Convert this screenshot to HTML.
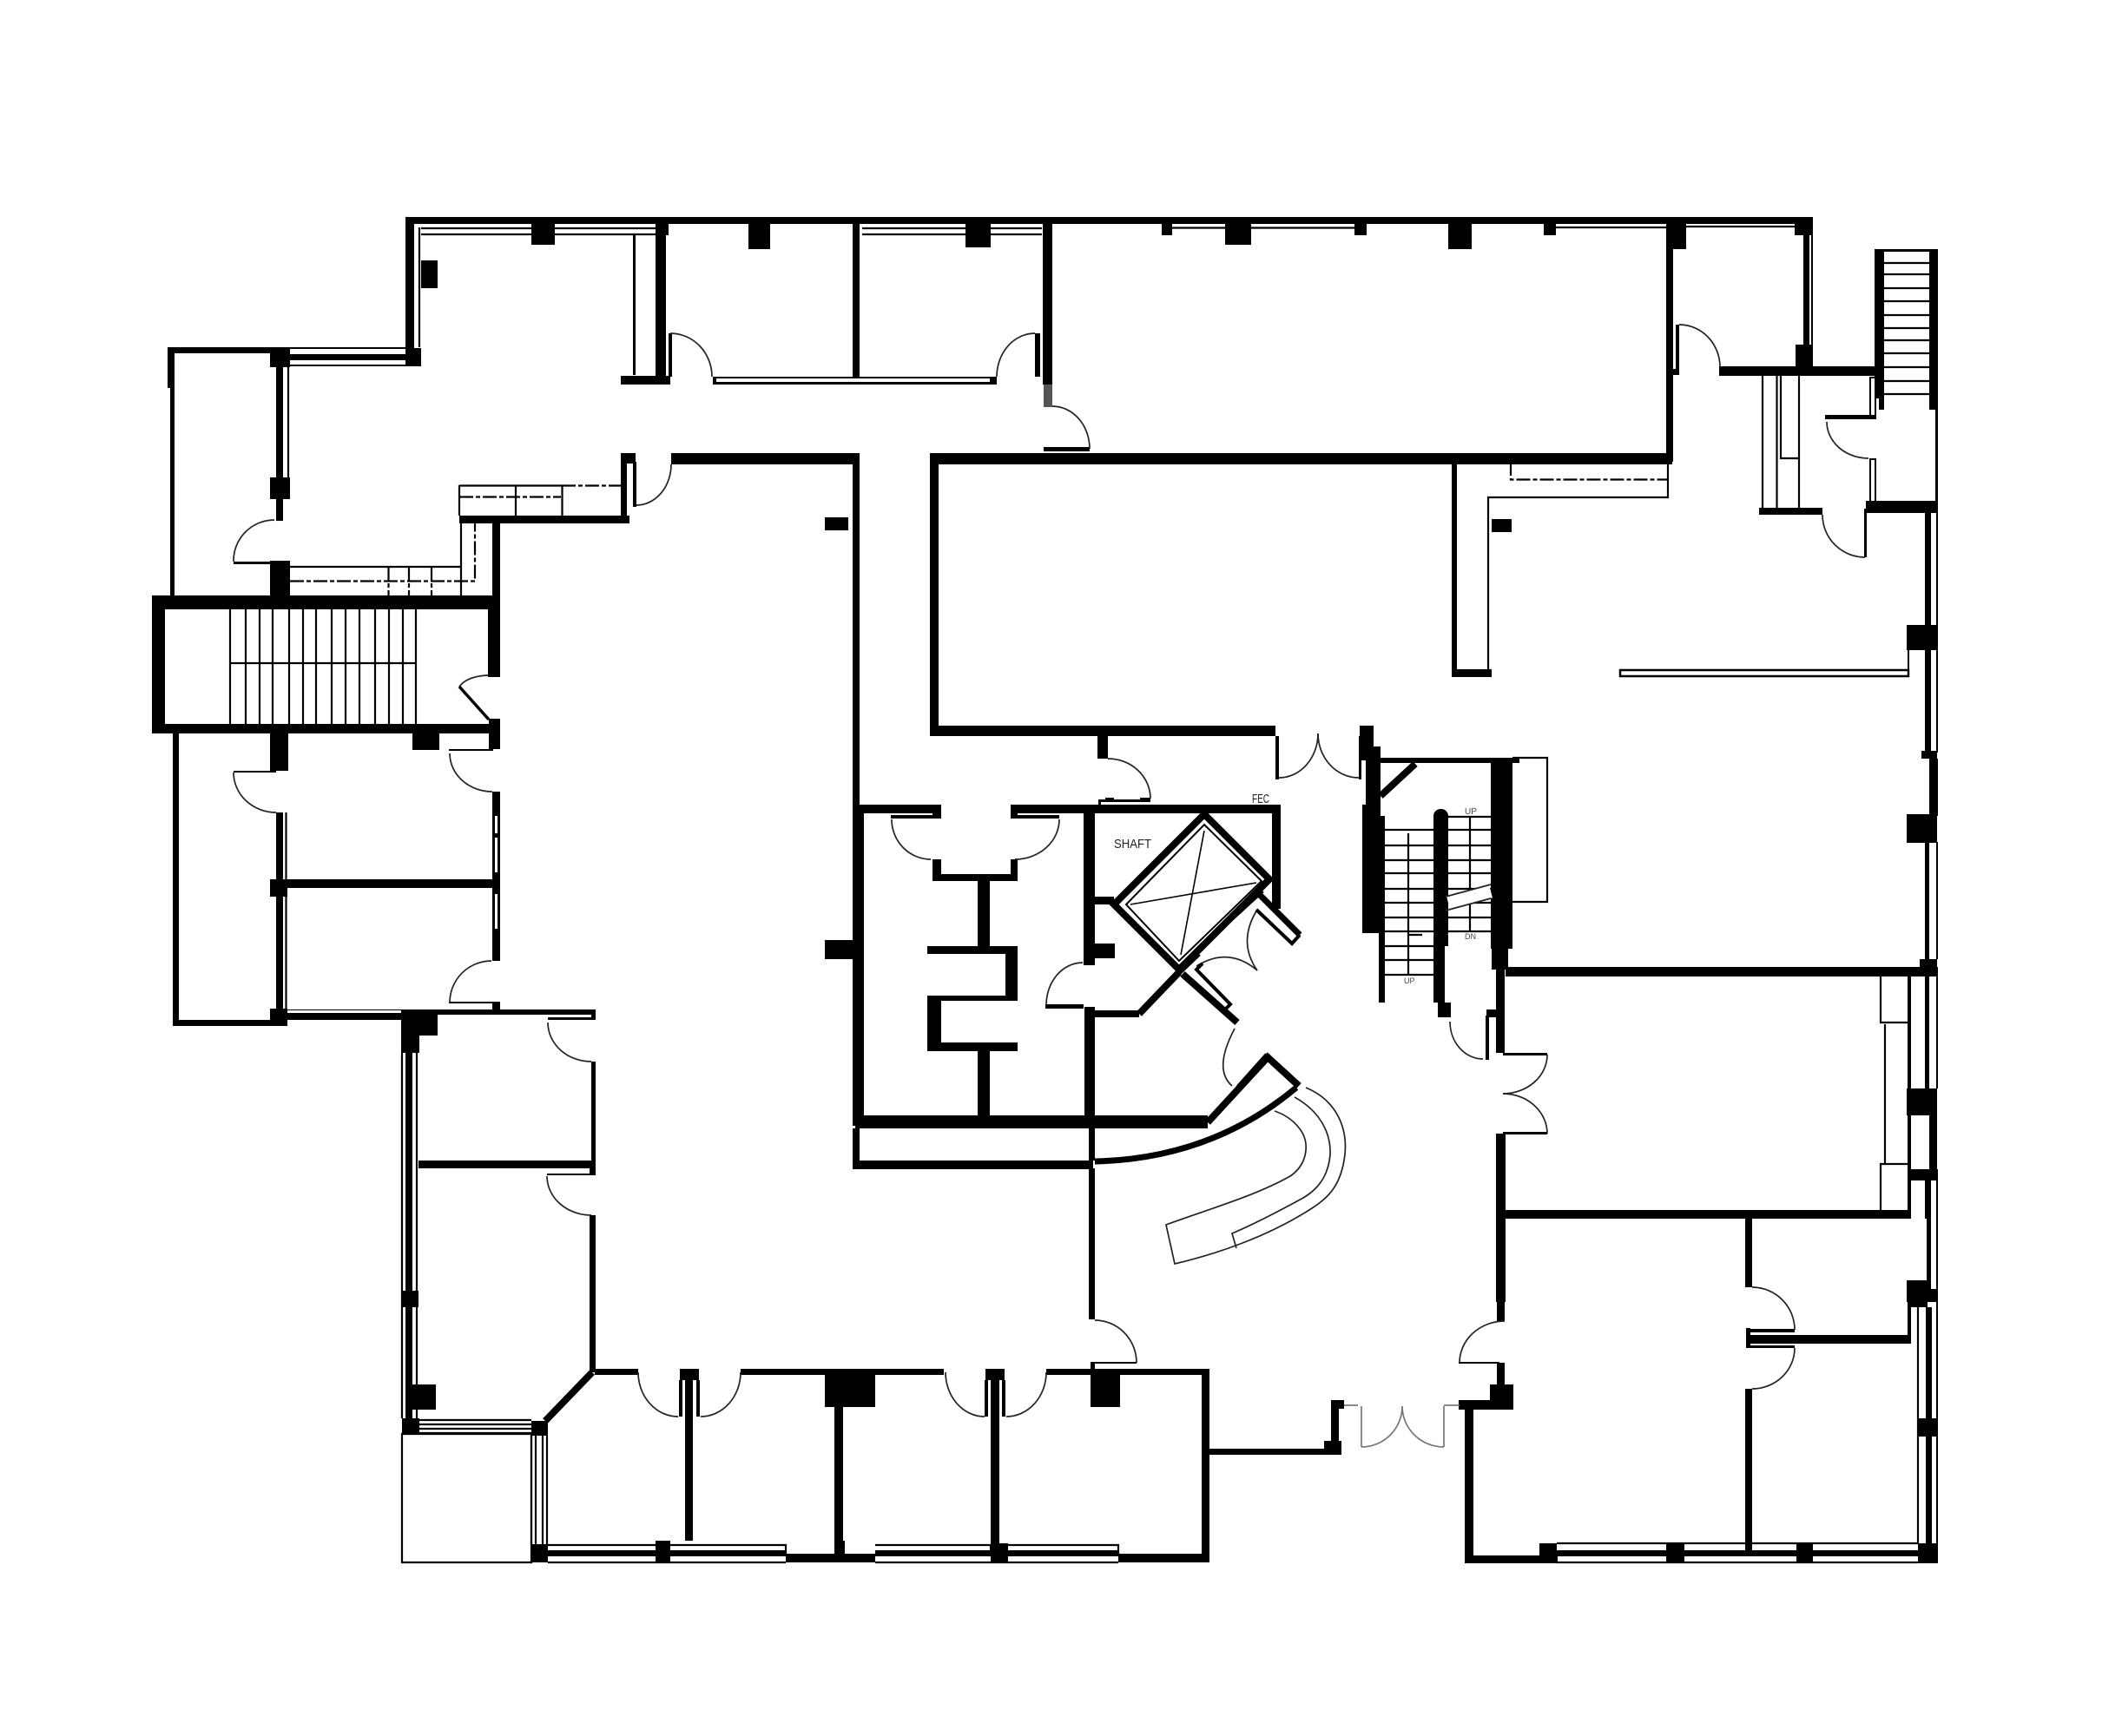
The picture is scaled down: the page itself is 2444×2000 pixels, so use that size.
<!DOCTYPE html>
<html><head><meta charset="utf-8"><title>Floor plan</title>
<style>html,body{margin:0;padding:0;background:#fff}svg{display:block}</style></head>
<body>
<svg xmlns="http://www.w3.org/2000/svg" width="2444" height="2000" viewBox="0 0 2444 2000">
<rect width="2444" height="2000" fill="#fff"/>
<path fill="#000" d="
M467 250H2088V258H467Z
M467 250H477V412H467Z
M467 401H485V422H467Z
M612 258H639V282H612Z
M485 300H504V332H485Z
M862 258H887V287H862Z
M1112 258H1141V285H1112Z
M1338 258H1350V271H1338Z
M1411 258H1441V282H1411Z
M1560 258H1574V271H1560Z
M1668 258H1695V287H1668Z
M1778 258H1792V271H1778Z
M1920 258H1942V287H1920Z
M2067 250H2088V271H2067Z
M193 400H313V407H193Z
M313 400H467V402H313Z
M313 408H467V415H313Z
M313 420H467V422H313Z
M311 401H334V423H311Z
M193 400H201V447H193Z
M196 447H201V687H196Z
M318 423H326V600H318Z
M311 550H334V575H311Z
M269 647H313V650H269Z
M311 646H334V687H311Z
M175 686H576V702H175Z
M175 686H190V845H175Z
M175 834H576V845H175Z
M562 702H576V780H562Z
M563 828H576V863H563Z
M311 845H332V888H311Z
M475 845H506V864H475Z
M199 845H206V1182H199Z
M199 1175H331V1182H199Z
M311 1162H331V1182H311Z
M269 888H318V890H269Z
M318 936H326V1013H318Z
M311 1013H331V1033H311Z
M331 1013H568V1023H331Z
M567 912H576V1107H567Z
M517 863H568V865H517Z
M517 1154H568V1156H517Z
M567 1154H576V1163H567Z
M318 1023H326V1162H318Z
M331 1163H464V1164H331Z
M331 1167H464V1175H331Z
M462 1163H504V1193H462Z
M462 1193H483V1213H462Z
M504 1163H686V1169H504Z
M681 1167H686V1175H681Z
M631 1172H681V1175H631Z
M681 1223H686V1337H681Z
M482 1337H686V1346H482Z
M467 1213H475V1650H467Z
M469 1595H502V1624H469Z
M463 1487H482V1506H463Z
M463 1634H483V1652H463Z
M679 1337H686V1354H679Z
M630 1352H681V1354H630Z
M679 1400H686V1581H679Z
M612 1637H631V1654H612Z
M612 1779H631V1800H612Z
M612 1786H905V1793H612Z
M755 1775H772V1800H755Z
M905 1790H962V1800H905Z
M962 1775H973V1800H962Z
M973 1790H1008V1800H973Z
M1141 1778H1161V1800H1141Z
M1288 1790H1393V1800H1288Z
M1008 1786H1288V1793H1008Z
M1384 1581H1393V1800H1384Z
M685 1577H735V1584H685Z
M853 1577H1087V1584H853Z
M1205 1577H1393V1584H1205Z
M950 1584H1008V1621H950Z
M1256 1584H1290V1621H1256Z
M789 1584H798V1775H789Z
M783 1577H805V1590H783Z
M782 1590H786V1632H782Z
M802 1590H806V1632H802Z
M961 1619H971V1790H961Z
M1141 1584H1151V1790H1141Z
M1135 1577H1157V1590H1135Z
M1134 1590H1138V1632H1134Z
M1154 1590H1158V1632H1154Z
M1254 1346H1261V1520H1254Z
M1256 1569H1309V1571H1256Z
M1256 1570H1261V1581H1256Z
M1393 1669H1543V1676H1393Z
M1525 1660H1545V1676H1525Z
M1533 1613H1542V1668H1533Z
M1533 1613H1548V1623H1533Z
M1680 1613H1716V1624H1680Z
M1716 1595H1743V1624H1716Z
M1687 1624H1697V1797H1687Z
M1687 1792H1794V1801H1687Z
M1773 1778H1793V1801H1773Z
M1773 1786H2210V1793H1773Z
M1919 1778H1940V1801H1919Z
M2069 1778H2088V1801H2069Z
M2209 1778H2232V1801H2209Z
M1724 1403H1733V1522H1724Z
M1680 1569H1727V1571H1680Z
M1724 1570H1733V1595H1724Z
M2010 1403H2018V1483H2010Z
M2016 1531H2067V1535H2016Z
M2011 1538H2201V1548H2011Z
M2011 1530H2016V1553H2011Z
M2016 1550H2067V1553H2016Z
M2010 1600H2018V1790H2010Z
M1727 1394H2201V1404H1727Z
M2196 1475H2232V1500H2196Z
M2197 1500H2220V1506H2197Z
M2197 1506H2201V1548H2197Z
M2209 1634H2232V1655H2209Z
M2218 1506H2225V1778H2218Z
M1734 1114H2232V1125H1734Z
M1723 1306H1734V1500H1723Z
M1731 1213H1782V1216H1731Z
M1731 1304H1782V1307H1731Z
M1717 877H1742V1093H1717Z
M1718 1093H1737V1117H1718Z
M1723 1117H1733V1213H1723Z
M1712 1163H1724V1172H1712Z
M1711 1170H1715V1221H1711Z
M1575 873H1750V879H1575Z
M2217 590H2224V867H2217Z
M2230 590H2232V867H2230Z
M2222 874H2232V940H2222Z
M2213 865H2231V874H2213Z
M2196 938H2231V971H2196Z
M2217 970H2222V1105H2217Z
M2230 970H2232V1105H2230Z
M2196 1254H2231V1285H2196Z
M2211 1105H2231V1124H2211Z
M2217 1124H2222V1254H2217Z
M2230 1124H2232V1254H2230Z
M2197 1124H2201V1404H2197Z
M2222 1285H2231V1347H2222Z
M2197 1347H2232V1360H2197Z
M2217 1360H2224V1404H2217Z
M2219 1404H2224V1475H2219Z
M2230 1360H2232V1778H2230Z
M755 258H767V434H755Z
M755 258H770V271H755Z
M729 271H732V432H729Z
M715 433H772V443H715Z
M770 384H774V434H770Z
M821 434H1148V443H821Z
M982 258H990V434H982Z
M1201 258H1212V443H1201Z
M1192 384H1198V434H1192Z
M1202 515H1255V520H1202Z
M1071 522H1926V535H1071Z
M1919 258H1927V532H1919Z
M1071 535H1081V838H1071Z
M1071 836H1469V848H1071Z
M1672 535H1678V778H1672Z
M1672 771H1718V780H1672Z
M1718 598H1741V613H1718Z
M950 596H977V611H950Z
M773 522H990V535H773Z
M982 522H990V928H982Z
M715 522H722V603H715Z
M715 522H732V534H715Z
M729 532H733V584H729Z
M529 594H725V603H529Z
M567 603H576V690H567Z
M1469 848H1473V898H1469Z
M1565 848H1568V898H1565Z
M1566 836H1582V876H1566Z
M1264 848H1276V874H1264Z
M1265 921H1325V924H1265Z
M1265 921H1268V927H1265Z
M1273 919H1283V924H1273Z
M1313 919H1325V924H1313Z
M1164 927H1475V937H1164Z
M982 927H1084V937H982Z
M1026 939H1078V943H1026Z
M1074 927H1084V943H1074Z
M1169 939H1220V943H1169Z
M1164 927H1172V943H1164Z
M982 928H995V1297H982Z
M950 1083H983V1105H950Z
M1074 990H1084V1015H1074Z
M1074 1007H1172V1015H1074Z
M1164 990H1172V1015H1164Z
M1126 1015H1140V1090H1126Z
M1068 1090H1172V1099H1068Z
M1158 1099H1172V1148H1158Z
M1068 1147H1172V1153H1068Z
M1068 1153H1084V1202H1068Z
M1068 1201H1172V1211H1068Z
M1126 1211H1140V1286H1126Z
M985 1285H1391V1300H985Z
M982 1300H990V1347H982Z
M982 1337H1259V1347H982Z
M1254 1300H1261V1337H1254Z
M1248 937H1261V1112H1248Z
M1261 1087H1284V1104H1261Z
M1260 1033H1283V1042H1260Z
M1204 1157H1248V1162H1204Z
M1249 1160H1261V1286H1249Z
M1261 1164H1312V1172H1261Z
M1465 937H1475V1047H1465Z
M1573 860H1590V927H1573Z
M1569 927H1590V1075H1569Z
M1588 940H1595V1155H1588Z
M1664 1077H1668V1090H1664Z
M1651 1077H1664V1155H1651Z
M1656 1155H1671V1172H1656Z
M2077 265H2084V421H2077Z
M2086 258H2088V421H2086Z
M2068 397H2088V423H2068Z
M1980 422H2169V433H1980Z
M1930 374H1934V430H1930Z
M1926 425H1934V432H1926Z
M2026 585H2099V593H2026Z
M2147 586H2150V642H2147Z
M2149 577H2232V591H2149Z
M2159 287H2170V459H2159Z
M2222 287H2232V472H2222Z
M2159 287H2232V290H2159Z
M2229 472H2232V577H2229Z
M2102 478H2161V483H2102Z
M2153 434H2161V436H2153Z
M2153 434H2155V480H2153Z
M2159 434H2161V483H2159Z
M2164 459H2170V472H2164Z
M2153 528H2161V530H2153Z
M2153 528H2155V577H2153Z
M2159 528H2161V577H2159Z
M2196 720H2231V749H2196Z
M2197 747H2199V773H2197Z
"/>
<rect x="1651" y="932" width="17" height="150" rx="8" fill="#000"/>
<path fill="#555" d="M1202 443H1212V469H1202Z"/>
<path fill="#fff" d="M825 436H1140V440H825ZM570 940H573V960H570ZM570 965H573V1005H570ZM570 1030H573V1070H570ZM2224 1360H2230V1485H2224Z"/>
<g fill="none" stroke="#000" stroke-width="2.2">
<path d="M993 263H1200M993 270H1200M485 263H755M485 270H755M483 262V400"/>
<path d="M1350 262.5H1411M1441 262.5H1560M1792 262H1920M1942 261H2067"/>
<path d="M332 423V550M329.5 936V1013M329.5 1023V1162M463 1213V1634M480 1213V1634"/>
<path d="M482 1636H612M482 1641H612M482 1646H612M482 1651H612"/>
<path d="M463 1652H612V1800H463Z"/>
<path d="M612 1654V1780M617 1654V1780M625 1654V1780M630 1654V1780"/>
<path d="M631 1780H755M772 1780H905V1790M631 1800H905M1008 1780H1141V1790M1161 1780H1288V1790M1008 1800H1288M1793 1778H2209M1793 1800H2209"/>
<path d="M2209 1506V1778"/>
<path d="M2030 433V586M2046.5 433V586M2051 433V528H2071M2072 433V586"/>
<path d="M1714 778V573H1921V532"/>
<path d="M2166 1124V1178H2197M2171 1180V1341M2166 1395V1341H2197"/>
<path d="M1742 873H1782V1039H1742"/>
<path d="M529 559.5H648M529 559V594M594 560V594M647.5 560V594"/>
<path d="M334 653H531M531 603V687"/>
<rect x="1866" y="772" width="332" height="7" fill="#fff" stroke-width="2.5"/>
<path d="M265 702V834M283 702V834M299 702V834M314 702V834M333 702V834M349 702V834M364 702V834M382 702V834M398 702V834M414 702V834M432 702V834M448 702V834M464 702V834M479 702V834M265 764H479"/>
<path d="M1595 956H1651M1595 974H1651M1595 991H1651M1595 1006H1651M1595 1024H1651M1595 1040H1651M1595 1057H1651M1595 1073H1651M1595 1090H1651M1595 1106H1651M1595 1123H1651M1622 960V1124M1623 1077H1638"/>
<path d="M1668 941H1717M1668 956H1717M1668 974H1717M1668 991H1717M1668 1006H1717M1668 1024H1717M1668 1040H1717M1668 1057H1717M1668 1073H1717M1693 941V1073"/>
<path d="M2170 303H2222M2170 316H2222M2170 332H2222M2170 347H2222M2170 363H2222M2170 378H2222M2170 392H2222M2170 407H2222M2170 423H2222M2170 439H2222M2170 454H2222"/>
</g>
<path d="M1668 1040L1717 1027" fill="none" stroke="#fff" stroke-width="15"/>
<path d="M1665 1033L1717 1019M1665 1049L1717 1035" fill="none" stroke="#222" stroke-width="1.8"/>
<g fill="none" stroke="#000" stroke-width="2.2" stroke-dasharray="16 3 5 3">
<path d="M334 669.5H547V603"/>
<path d="M447.5 653V687M471 653V687M497 653V687"/>
<path d="M529 572.5H646M647 559.5H716"/>
<path d="M1740 532V552.5H1920"/>
</g>
<g fill="none" stroke="#222" stroke-width="1.7">
<path d="M269 647A47 47 0 0 1 316 599"/>
<path d="M269 890A49 46 0 0 0 318 936"/>
<path d="M529 791Q538 779 562 778"/>
<path d="M518 868A49 44 0 0 0 567 912"/>
<path d="M518 1155A48 48 0 0 1 566 1107"/>
<path d="M631 1178A50 45 0 0 0 681 1223"/>
<path d="M630 1355A51 45 0 0 0 681 1400"/>
<path d="M733 582A40 47 0 0 0 773 535"/>
<path d="M772 384A48 50 0 0 1 820 434"/>
<path d="M1192 384A44 50 0 0 0 1148 434"/>
<path d="M1212 468A43 49 0 0 1 1255 517"/>
<path d="M1473 896A45 51 0 0 0 1518 845"/>
<path d="M1565 896A47 51 0 0 1 1518 845"/>
<path d="M1276 874A49 46 0 0 1 1325 920"/>
<path d="M1027 944A45 46 0 0 0 1072 990"/>
<path d="M1220 944A51 46 0 0 1 1169 990"/>
<path d="M1247 1109A42 49 0 0 0 1205 1158"/>
<path d="M1670 1177A38 43 0 0 0 1708 1220"/>
<path d="M1782 1215A51 45 0 0 1 1731 1260"/>
<path d="M1782 1306A51 46 0 0 0 1731 1260"/>
<path d="M1934 374A47 49 0 0 1 1981 423"/>
<path d="M2104 486A48 42 0 0 0 2152 528"/>
<path d="M2099 593A49 49 0 0 0 2148 642"/>
<path d="M735 1581A46 51 0 0 0 781 1632"/>
<path d="M853 1581A46 51 0 0 1 807 1632"/>
<path d="M1089 1581A45 51 0 0 0 1134 1632"/>
<path d="M1205 1581A46 51 0 0 1 1159 1632"/>
<path d="M1261 1521A48 49 0 0 1 1309 1570"/>
<path d="M1733 1522A52 48 0 0 0 1681 1570"/>
<path d="M2018 1483A49 49 0 0 1 2067 1532"/>
<path d="M2067 1553A49 47 0 0 1 2018 1600"/>
<path d="M1448 1048Q1425 1085 1448 1118"/>
<path d="M1378 1113Q1415 1090 1448 1118"/>
<path d="M1422 1185Q1397 1232 1419 1251"/>
</g>
<g fill="none" stroke="#777" stroke-width="1.7">
<path d="M1568 1667A47 47 0 0 0 1615 1620M1663 1667A48 47 0 0 1 1615 1620M1568 1620V1667M1663 1620V1667M1548 1619H1564M1663 1619H1681"/>
</g>
<g fill="none" stroke="#000">
<path d="M1387 938L1462 1013L1358 1117L1283 1042Z" stroke-width="8"/>
<path d="M1387 950L1453 1015L1358 1107L1297 1042Z" stroke-width="2"/>
<path d="M1387 957L1360 1100M1302 1042L1447 1017" stroke-width="1.6"/>
<path d="M1312 1168L1358 1120" stroke-width="8"/>
<path d="M1362 1122L1425 1178" stroke-width="8"/>
<path d="M1418 1057L1453 1025" stroke-width="8"/>
<path d="M1380 1098L1357 1120" stroke-width="8"/>
<path d="M1590 917L1630 880" stroke-width="8"/>
<path d="M682 1581L628 1637" stroke-width="8"/>
<path d="M529 791L563 829" stroke-width="3.5"/>
<path d="M1391 1293L1460 1218L1496 1251" stroke-width="8"/>
<path d="M1425 1251L1458 1214" stroke-width="2"/>
<path d="M1493 1253Q1395 1335 1261 1338" stroke-width="7"/>
<path d="M1450 1030L1497 1077" stroke-width="7"/>
<path d="M1497 1077L1488 1087L1447 1048" stroke-width="4"/>
<path d="M1385 1110L1378 1117L1417 1157L1410 1164" stroke-width="4"/>
</g>
<g fill="none" stroke="#222" stroke-width="1.7">
<path d="M1504 1253C1540 1268 1552 1300 1549 1330C1545 1365 1530 1380 1511 1392C1460 1425 1400 1445 1353 1456L1343 1411C1395 1392 1445 1378 1486 1355C1505 1342 1508 1320 1500 1305C1492 1292 1480 1284 1468 1280"/>
<path d="M1491 1264C1520 1280 1533 1305 1532 1330C1530 1355 1518 1370 1501 1380C1470 1397 1445 1410 1419 1421L1424 1438"/>
</g>
<g font-family="'Liberation Sans',sans-serif" fill="#222">
<text x="1283" y="977" font-size="15" textLength="43" lengthAdjust="spacingAndGlyphs">SHAFT</text>
<text x="1442" y="925" font-size="15" textLength="20" lengthAdjust="spacingAndGlyphs">FEC</text>
<text x="1687" y="938" font-size="10" fill="#444">UP</text>
<text x="1687" y="1082" font-size="9" fill="#444">DN</text>
<text x="1617" y="1133" font-size="9" fill="#444">UP</text>
</g>
</svg>
</body></html>
